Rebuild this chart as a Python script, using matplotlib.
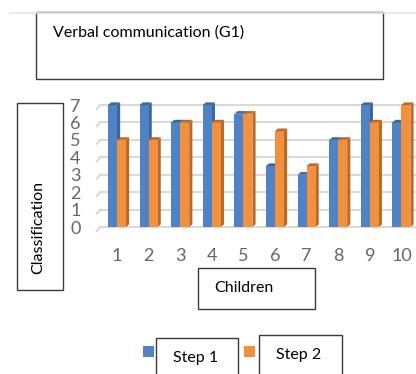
import matplotlib
matplotlib.use('Agg')
from matplotlib import pyplot as plt
from matplotlib.patches import Rectangle, Polygon

plt.rcParams['font.family'] = ['Lato', 'DejaVu Sans']

children = [1, 2, 3, 4, 5, 6, 7, 8, 9, 10]
step1 = [7, 7, 6, 7, 6.5, 3.5, 3, 5, 7, 6]
step2 = [5, 5, 6, 6, 6.5, 5.5, 3.5, 5, 6, 7]
y_ticks = [0, 1, 2, 3, 4, 5, 6, 7]

W, H = 416, 374
BLUE, BLUE_SIDE = '#5082c6', '#3c659e'
ORANGE, ORANGE_SIDE = '#f1913f', '#b96a27'
GRID = '#d9d9d9'
TICK = '#666666'


def fx(px):
    return px / W


def fy(py):
    return 1 - py / H


def box(fig, x0, y0, x1, y1):
    fig.add_artist(Rectangle((fx(x0), fy(y1)), fx(x1) - fx(x0), fy(y0) - fy(y1),
                             transform=fig.transFigure, fill=False,
                             edgecolor='#3a3a3a', linewidth=1.0, clip_on=False))


def bar3d(ax, x, h, w, front, side, dx=0.1, dy=0.15):
    ax.add_patch(Rectangle((x, 0), w, h, facecolor=front, edgecolor='none',
                           zorder=3, clip_on=False))
    ax.add_patch(Polygon([(x + w, 0), (x + w + dx, dy), (x + w + dx, h + dy), (x + w, h)],
                         facecolor=side, edgecolor='none', zorder=2, clip_on=False))
    ax.add_patch(Polygon([(x, h), (x + dx, h + dy), (x + w + dx, h + dy), (x + w, h)],
                         facecolor=side, edgecolor='none', zorder=3, clip_on=False))


fig = plt.figure(figsize=(W / 100, H / 100), dpi=100)
ax = fig.add_axes([fx(100), fy(227), fx(316), 122 / H])
ax.set_xlim(0.462, 10.462)
ax.set_ylim(0, 7)

# back wall grid with small slanted floor strokes on the left
for v in y_ticks:
    ax.plot([0.462, 10.6], [v, v], color=GRID, linewidth=1.5, zorder=1, clip_on=False)
    ax.plot([0.462, 0.36], [v, v - 0.23], color=GRID, linewidth=1.5, zorder=1, clip_on=False)

bw = 0.285
for c, a, b in zip(children, step1, step2):
    bar3d(ax, c - bw, a, bw, BLUE, BLUE_SIDE)
    bar3d(ax, c, b, bw, ORANGE, ORANGE_SIDE)

for s in ax.spines.values():
    s.set_visible(False)
ax.set_xticks(children)
ax.set_xticklabels([str(c) for c in children])
ax.set_yticks(y_ticks)
ax.tick_params(length=0, labelsize=13, labelcolor=TICK)
ax.tick_params(axis='x', pad=15)
ax.tick_params(axis='y', pad=14)

# faint chart-area edge at the top
fig.add_artist(plt.Line2D([fx(10), 1], [fy(13), fy(13)], transform=fig.transFigure,
                          color='#e6e6e6', linewidth=1.2))

# title box
box(fig, 36, 12, 383, 79)
fig.text(fx(53), fy(33), 'Verbal communication (G1)', fontsize=11.5,
         ha='left', va='center', color='black')

# y label box
box(fig, 17, 103, 63, 290)
fig.text(fx(38), fy(228), 'Classification', fontsize=11.5, rotation=90,
         ha='center', va='center', color='black')

# x label box
box(fig, 198, 268, 315, 309)
fig.text(fx(244), fy(288), 'Children', fontsize=11.5, ha='center', va='center')

# legend
fig.add_artist(Rectangle((fx(143), fy(357)), fx(11), 11 / H, transform=fig.transFigure,
                         facecolor=BLUE, edgecolor='none'))
fig.add_artist(Rectangle((fx(244), fy(357)), fx(11), 11 / H, transform=fig.transFigure,
                         facecolor=ORANGE, edgecolor='none'))
box(fig, 156, 338, 238, 380)
box(fig, 259, 335, 342, 380)
fig.text(fx(196), fy(358), 'Step 1', fontsize=11.5, ha='center', va='center')
fig.text(fx(299), fy(355), 'Step 2', fontsize=11.5, ha='center', va='center')

fig.savefig('out.png', dpi=100)
